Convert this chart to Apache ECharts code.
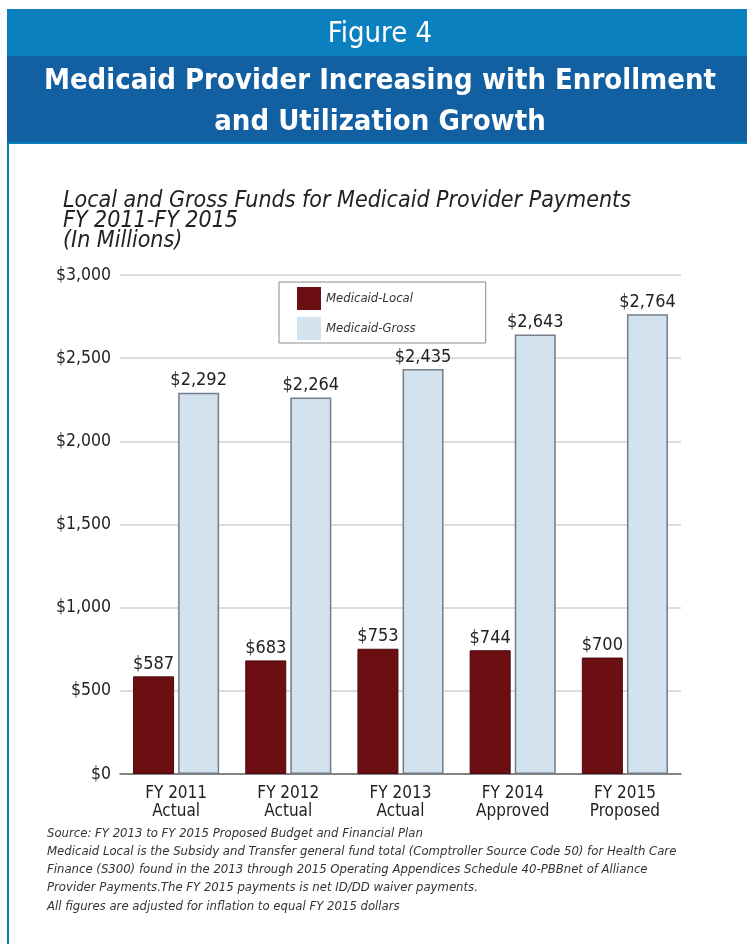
<!DOCTYPE html>
<html>
<head>
<meta charset="utf-8">
<script src="https://cdn.jsdelivr.net/npm/echarts@6/dist/echarts.min.js"></script>
<style>
  html, body { margin: 0; padding: 0; background: #ffffff; }
  #chart { width: 747px; height: 944px; }
</style>
</head>
<body>
<div id="chart"></div>
<script>
// Fiscal years shown on the category axis
const categories = ['FY 2011\nActual', 'FY 2012\nActual', 'FY 2013\nActual', 'FY 2014\nApproved', 'FY 2015\nProposed'];
// Provider payments, $ millions
const localValues = [587, 683, 753, 744, 700];
const grossValues = [2292, 2264, 2435, 2643, 2764];
const seriesNames = ['Medicaid-Local', 'Medicaid-Gross'];
const yTicks = [0, 500, 1000, 1500, 2000, 2500, 3000];

const headerKicker = 'Figure 4';
const headerTitle = ['Medicaid Provider Increasing with Enrollment', 'and Utilization Growth'];
const chartTitle = ['Local and Gross Funds for Medicaid Provider Payments', 'FY 2011-FY 2015', '(In Millions)'];
const notes = [
  'Source: FY 2013 to FY 2015 Proposed Budget and Financial Plan',
  'Medicaid Local is the Subsidy and Transfer general fund total (Comptroller Source Code 50) for Health Care',
  'Finance (S300) found in the 2013 through 2015 Operating Appendices Schedule 40-PBBnet of Alliance',
  'Provider Payments.The FY 2015 payments is net ID/DD waiver payments.',
  'All figures are adjusted for inflation to equal FY 2015 dollars'
];

const NARROW = '"DejaVu Sans Condensed", "Liberation Sans Narrow", sans-serif';
const money = v => '$' + Number(v).toLocaleString('en-US');

const chart = echarts.init(document.getElementById('chart'), null, { renderer: 'canvas' });

const valueLabel = {
  show: true,
  position: 'top',
  distance: 3,
  fontFamily: NARROW,
  fontSize: 18,
  color: '#222222',
  formatter: p => money(p.value)
};

chart.setOption({
  backgroundColor: '#ffffff',
  animation: false,
  title: {
    text: chartTitle.join('\n'),
    left: 58,
    top: 186,
    textStyle: {
      fontFamily: NARROW,
      fontStyle: 'italic',
      fontWeight: 'normal',
      fontSize: 23,
      lineHeight: 20,
      color: '#222222'
    }
  },
  legend: {
    orient: 'vertical',
    left: 279,
    top: 282,
    padding: [5, 70, 3, 18],
    itemGap: 7,
    itemWidth: 24,
    itemHeight: 23,
    icon: 'rect',
    itemStyle: { borderWidth: 0 },
    borderColor: '#8a8a8a',
    borderWidth: 1,
    textStyle: {
      fontFamily: NARROW,
      fontStyle: 'italic',
      fontSize: 13,
      color: '#333333'
    },
    data: seriesNames
  },
  grid: {
    left: 120,
    right: 66,
    top: 275,
    bottom: 170,
    containLabel: false
  },
  xAxis: {
    type: 'category',
    data: categories,
    axisTick: { show: false },
    axisLine: { lineStyle: { color: '#666666', width: 1.5 } },
    axisLabel: {
      fontFamily: NARROW,
      fontSize: 17,
      lineHeight: 18,
      color: '#222222',
      margin: 11
    }
  },
  yAxis: {
    type: 'value',
    min: yTicks[0],
    max: yTicks[yTicks.length - 1],
    interval: yTicks[1] - yTicks[0],
    axisLine: { show: false },
    axisTick: { show: false },
    axisLabel: {
      fontFamily: NARROW,
      fontSize: 17.5,
      color: '#222222',
      margin: 9,
      formatter: money
    },
    splitLine: { lineStyle: { color: '#dcdcdc', width: 2 } }
  },
  series: [
    {
      name: seriesNames[0],
      type: 'bar',
      data: localValues,
      barWidth: 41,
      barGap: '10%',
      itemStyle: { color: '#6c0f13', borderColor: '#4a0a0c', borderWidth: 1 },
      label: valueLabel
    },
    {
      name: seriesNames[1],
      type: 'bar',
      data: grossValues,
      barWidth: 41,
      itemStyle: { color: '#d3e2ef', borderColor: '#727e89', borderWidth: 1.5 },
      label: valueLabel
    }
  ],
  graphic: [
    // header bands
    { type: 'rect', shape: { x: 7, y: 9, width: 740, height: 47 }, style: { fill: '#0b80bf' }, silent: true },
    { type: 'rect', shape: { x: 7, y: 56, width: 740, height: 86 }, style: { fill: '#125fa1' }, silent: true },
    { type: 'rect', shape: { x: 7, y: 142, width: 740, height: 2 }, style: { fill: '#0b80bf' }, silent: true },
    // left frame rule
    { type: 'rect', shape: { x: 7, y: 142, width: 2, height: 802 }, style: { fill: '#0b80bf' }, silent: true },
    {
      type: 'text', x: 380, y: 20, silent: true,
      style: {
        text: headerKicker, fill: '#ffffff', textAlign: 'center',
        font: '29px "DejaVu Sans Condensed", sans-serif'
      }
    },
    {
      type: 'text', x: 380, y: 61, silent: true,
      style: {
        text: headerTitle.join('\n'), fill: '#ffffff', textAlign: 'center',
        font: 'bold 29px "DejaVu Sans Condensed", sans-serif',
        lineHeight: 41
      }
    },
    {
      type: 'text', left: 47, top: 824, silent: true,
      style: {
        text: notes.join('\n'), fill: '#333333',
        font: 'italic 13px "DejaVu Sans Condensed", sans-serif',
        lineHeight: 18.3
      }
    }
  ]
});
</script>
</body>
</html>
